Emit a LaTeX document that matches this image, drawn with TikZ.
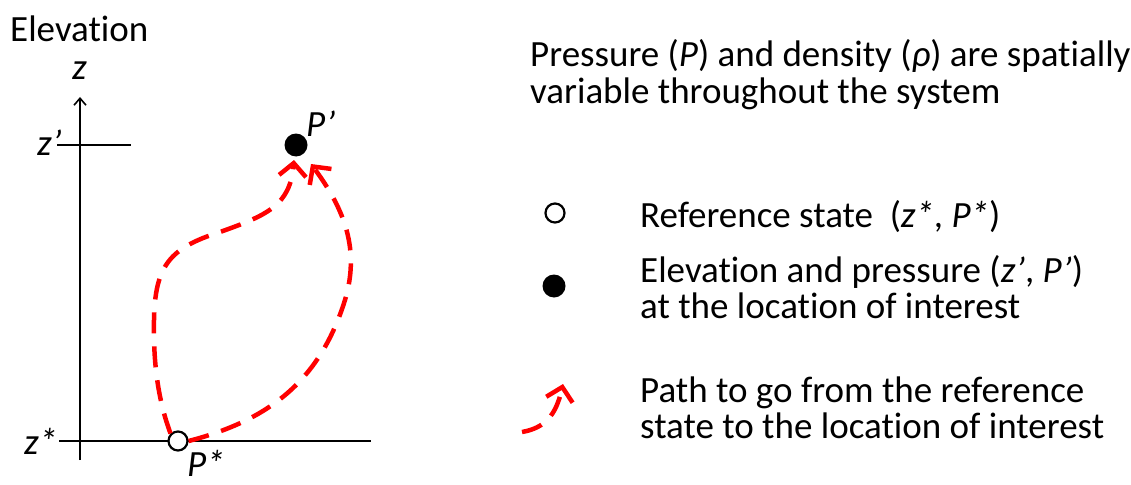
\documentclass[tikz,border=0pt]{standalone}
\usepackage{fontspec}
\setmainfont{Carlito}[Ligatures=NoCommon]
\usetikzlibrary{arrows.meta}
\begin{document}
\begin{tikzpicture}[x=1pt,y=-1pt,
  txt/.style={anchor=base west,inner sep=0pt,font=\fontsize{37}{37}\selectfont},
  axisline/.style={line width=2.2pt,black},
  redpath/.style={red,line width=4.5pt,dash pattern=on 21pt off 13pt,
     -{Straight Barb[length=13pt,width=27pt,line width=4.5pt]}},
  opendot/.style={circle,draw=black,line width=2.2pt,fill=white,minimum size=19pt,inner sep=0pt},
  filldot/.style={circle,fill=black,minimum size=23pt,inner sep=0pt}]
\useasboundingbox (0,0) rectangle (1131,484);
% axes
\coordinate (zb) at (80,460);
\coordinate (zt) at (80,97);
\draw[axisline,-{Straight Barb[length=7pt,width=12pt,line width=1.6pt]},line width=1.6pt] (zb) -- (zt);
\coordinate (zpa) at (57,145); \coordinate (zpb) at (131,145);
\draw[axisline] (zpa) -- (zpb);
\coordinate (zsa) at (59,441); \coordinate (zsb) at (371,441);
\draw[axisline] (zsa) -- (zsb);
% labels
\node[txt] (elev) at (10,42) {Elevation};
\node[txt] (zlab) at (72,80) {\itshape z};
\node[txt] (zplab) at (37,155) {\itshape z’};
\node[txt] (zslab) at (24,454) {\itshape z*};
% dots
\node[opendot] (ref) at (178,441) {};
\node[filldot] (loc) at (296,145) {};
\node[txt] (pplab) at (306,136) {\itshape P’};
\node[txt] (pslab) at (187,476) {\itshape P*};
% paths
\draw[redpath] (ref.north west) .. controls (160,405) and (153,370) .. (154,320)
   .. controls (155,265) and (170,248) .. (220,232)
   .. controls (268,215) and (290,205) .. (294,160);
\draw[redpath] (ref.east) .. controls (270,420) and (320,380) .. (345,300)
   .. controls (360,250) and (345,210) .. (311,164);
% top text
\node[txt] (t1) at (530,67) {Pressure (\textit{P}) and density (\textit{ρ}) are spatially};
\node[txt] (t2) at (530,104) {variable throughout the system};
% legend
\node[opendot] (lref) at (555,213) {};
\node[txt] (l1) at (640,227) {Reference state\ \ (\textit{z*}, \textit{P*})};
\node[filldot] (lloc) at (554,286) {};
\node[txt] (l2a) at (640,282) {Elevation and pressure (\textit{z’}, \textit{P’})};
\node[txt] (l2b) at (640,318) {at the location of interest};
\coordinate (la) at (522,432);
\coordinate (lb) at (563,384);
\draw[redpath] (la) .. controls (545,428) and (556,415) .. (lb);
\node[txt] (l3a) at (640,402) {Path to go from the reference};
\node[txt] (l3b) at (640,438) {state to the location of interest};
\end{tikzpicture}
\end{document}
